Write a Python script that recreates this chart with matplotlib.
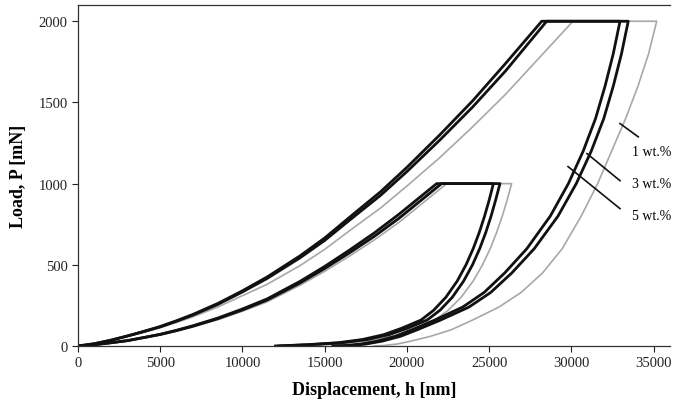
import numpy as np
import matplotlib
matplotlib.use("Agg")
import matplotlib.pyplot as plt

plt.rcParams['font.family'] = ['Liberation Serif', 'DejaVu Serif']

# ---- loading branches
load2k_h = [0, 1000, 2000, 3000, 4000, 5000, 6000, 7000, 8500, 10000, 11500, 13500, 15000, 16540,
            18400, 20000, 22000, 24000, 26000]
load2k_p5 = [0, 14, 36, 62, 90, 120, 156, 195, 262, 340, 425, 555, 665, 795, 950, 1100, 1300, 1510, 1740]
load2k_p3 = [0, 14, 35, 61, 89, 118, 153, 191, 256, 333, 416, 543, 650, 777, 928, 1074, 1268, 1472, 1694]
load2k_p1 = [0, 13, 34, 58, 84, 112, 145, 180, 240, 310, 380, 495, 595, 712, 850, 985, 1160, 1350, 1550]
load2k_end = [28200, 28500, 30100]      # depth where 2000 mN is reached (5, 3, 1 wt.%)

load1k_h = [0, 1000, 2000, 3000, 4000, 5000, 6000, 7000, 8500, 10000, 11500, 13500, 15000, 16500,
            18000, 19500]
load1k_p5 = [0, 8, 20, 33, 52, 72, 97, 125, 172, 228, 290, 398, 490, 590, 695, 810]
load1k_p3 = [0, 8, 20, 33, 52, 71, 95, 122, 168, 222, 283, 388, 477, 573, 674, 785]
load1k_p1 = [0, 8, 19, 32, 50, 69, 92, 118, 162, 214, 272, 374, 460, 553, 652, 760]
load1k_end = [21810, 22110, 22420]

# ---- unloading branches (start of each list = end of the hold)
unl2k_p = [2000, 1800, 1600, 1400, 1200, 1000, 800, 600, 450, 330, 240, 160, 100, 60, 30, 12, 3, 0]
unl2k_h5 = [32960, 32550, 32050, 31470, 30720, 29820, 28720, 27300, 25950, 24700, 23400, 21700,
            20300, 19300, 18200, 17200, 16300, 15500]
unl2k_h3 = [33460, 33050, 32550, 31970, 31210, 30300, 29190, 27750, 26380, 25100, 23780, 22050,
            20630, 19620, 18500, 17500, 16600, 15800]
unl2k_h1 = [35190, 34700, 34050, 33300, 32450, 31600, 30600, 29450, 28250, 26950, 25600, 24000,
            22700, 21450, 20250, 19400, 18600, 18000]

unl1k_p = [1000, 900, 800, 700, 600, 500, 400, 300, 220, 160, 110, 70, 40, 20, 8, 2, 0]
unl1k_h5 = [25260, 25007, 24724, 24404, 24034, 23596, 23061, 22370, 21626, 20862, 19700, 18600,
            17300, 15800, 13900, 12500, 12000]
unl1k_h3 = [25660, 25400, 25120, 24800, 24430, 23990, 23450, 22760, 22010, 21230, 20050, 18930,
            17600, 16050, 14100, 12700, 12200]
unl1k_h1 = [26370, 26100, 25800, 25460, 25070, 24600, 24030, 23300, 22510, 21700, 20740, 19590,
            18160, 16600, 15000, 14300, 14000]

labels = ["1 wt.%", "3 wt.%", "5 wt.%"]
label_h = [34900, 34900, 34900]
label_p = [1198, 1000, 802]
lead_h = [(32960, 34070), (30950, 32960), (29800, 32960)]
lead_p = [(1370, 1288), (1185, 1018), (1105, 846)]

fig = plt.figure(figsize=(6.77, 4.14), dpi=100)
ax = fig.add_axes([78/677, 1-347/414, (670-78)/677, (347-6)/414])

grey = '#a8a8a8'
dark = '#111111'
series = [
    (load2k_p1, load2k_end[2], unl2k_h1, load1k_p1, load1k_end[2], unl1k_h1, grey, 1.2),
    (load2k_p3, load2k_end[1], unl2k_h3, load1k_p3, load1k_end[1], unl1k_h3, dark, 2.0),
    (load2k_p5, load2k_end[0], unl2k_h5, load1k_p5, load1k_end[0], unl1k_h5, dark, 2.0),
]
for lp2, e2, uh2, lp1, e1, uh1, col, lw in series:
    h = load2k_h + [e2] + uh2
    p = lp2 + [2000] + unl2k_p
    ax.plot(h, p, color=col, lw=lw, solid_joinstyle='round')
    h = load1k_h + [e1] + uh1
    p = lp1 + [1000] + unl1k_p
    ax.plot(h, p, color=col, lw=lw, solid_joinstyle='round')

for i in range(3):
    ax.plot(lead_h[i], lead_p[i], color=dark, lw=1.2)
    ax.text(label_h[i], label_p[i], labels[i], fontsize=10, ha='center', va='center')

ax.set_xlim(0, 36000)
ax.set_ylim(0, 2100)
ax.set_xticks(np.arange(0, 35001, 5000))
ax.set_yticks(np.arange(0, 2001, 500))
ax.tick_params(direction='out', length=4, width=0.8, labelsize=10.5, colors='#222222')
ax.spines['right'].set_visible(False)
for s in ['top', 'left', 'bottom']:
    ax.spines[s].set_color('#333333')
    ax.spines[s].set_linewidth(0.9)

ax.set_xlabel("Displacement, h [nm]", fontsize=13, fontweight='bold', labelpad=8)
ax.set_ylabel("Load, P [mN]", fontsize=13, fontweight='bold', labelpad=8)

fig.savefig("out.png", dpi=100)
